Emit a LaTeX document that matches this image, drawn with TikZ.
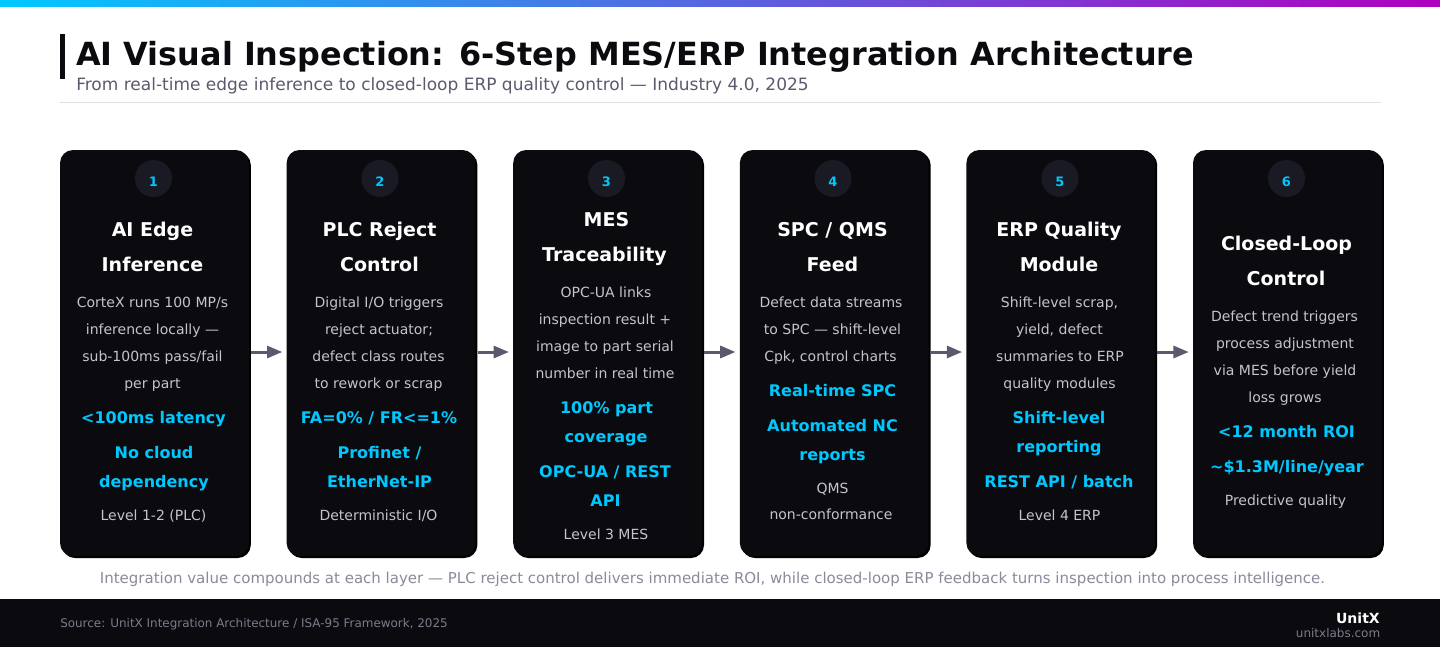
\documentclass[tikz,border=0pt]{standalone}
\usepackage{fontspec}
\setmainfont{DejaVu Sans}
\usetikzlibrary{arrows.meta,shadows}
\definecolor{inkdark}{HTML}{0A0A0F}
\definecolor{numfill}{HTML}{1A1A24}
\definecolor{accent}{HTML}{00C8FF}
\definecolor{bodygrey}{HTML}{C4C4CC}
\definecolor{slate}{HTML}{5A5A6E}
\definecolor{notegrey}{HTML}{8A8A9A}
\definecolor{rulegrey}{HTML}{E0E0E0}
\definecolor{barend}{HTML}{B000C0}
\definecolor{barmid}{HTML}{3B82F6}
\tikzset{
  basic/.style  = {inner sep=0pt, anchor=base},
  card/.style   = {fill=inkdark, rounded corners=9.75pt, minimum width=141.6pt, minimum height=304.5pt, inner sep=0pt,
                   drop shadow={shadow xshift=1.5pt, shadow yshift=-1.5pt, fill=black, opacity=1}},
  badge/.style  = {circle, fill=numfill, minimum size=27.75pt, inner sep=0pt},
  num/.style    = {basic, text=accent, font=\fontsize{9.75pt}{12pt}\selectfont\bfseries},
  head/.style   = {basic, text=white, font=\fontsize{14.25pt}{17pt}\selectfont\bfseries},
  body/.style   = {basic, text=bodygrey, font=\fontsize{10.5pt}{13pt}\selectfont},
  key/.style    = {basic, text=accent, font=\fontsize{12pt}{14pt}\selectfont\bfseries},
  flow/.style   = {-{Triangle[length=11.5pt,width=9pt]}, slate, line width=2.25pt, shorten <=1.5pt, shorten >=3pt}
}
\begin{document}
\begin{tikzpicture}[x=0.75pt, y=-0.75pt]
\useasboundingbox (0,0) rectangle (1440,647);

% page furniture
\shade[left color=accent, middle color=barmid, right color=barend] (0,0) rectangle (1440,6);
\fill[inkdark] (60,34) rectangle (65,79);
\fill[rulegrey] (60,101.5) rectangle (1381,102.5);
\fill[inkdark] (0,599) rectangle (1440,647);

\node[basic, anchor=base west, text=inkdark, font=\fontsize{23.9pt}{29pt}\selectfont\bfseries] (maintitle) at (76,65)
  {AI Visual Inspection: 6-Step MES/ERP Integration Architecture};
\node[basic, anchor=base west, text=slate, font=\fontsize{12.75pt}{15pt}\selectfont] (subtitle) at (76,90)
  {From real-time edge inference to closed-loop ERP quality control — Industry 4.0, 2025};

% cards and their number badges
\foreach \i/\cx/\nx in {1/154.4/153.5, 2/381/380, 3/607.6/606.5, 4/834.2/833, 5/1060.8/1060, 6/1287.4/1286.5} {
  \node[card] (c\i) at (\cx,353) {};
  \node[badge] (n\i) at (\nx,178.5) {};
  \node[num] (l\i) at (\nx,186) {\i};
}

% card 1
\node[head] (c11) at (152.5,236) {AI Edge};
\node[head] (c12) at (152.5,271) {Inference};
\node[body] (c13) at (152.5,307) {CorteX runs 100 MP/s};
\node[body] (c14) at (152.5,334) {inference locally —};
\node[body] (c15) at (152.5,361) {sub-100ms pass/fail};
\node[body] (c16) at (152.5,388) {per part};
\node[key]  (c17) at (153.5,423) {<100ms latency};
\node[key]  (c18) at (154,458) {No cloud};
\node[key]  (c19) at (154,487) {dependency};
\node[body] (c110) at (153.5,520) {Level 1-2 (PLC)};

% card 2
\node[head] (c21) at (379.5,236) {PLC Reject};
\node[head] (c22) at (379.5,271) {Control};
\node[body] (c23) at (379,307) {Digital I/O triggers};
\node[body] (c24) at (379,334) {reject actuator;};
\node[body] (c25) at (378.5,361) {defect class routes};
\node[body] (c26) at (378.5,388) {to rework or scrap};
\node[key]  (c27) at (379,423) {FA=0\% / FR<=1\%};
\node[key]  (c28) at (379.5,458) {Profinet /};
\node[key]  (c29) at (379.5,487) {EtherNet-IP};
\node[body] (c210) at (378.5,520) {Deterministic I/O};

% card 3
\node[head] (c31) at (606.5,226) {MES};
\node[head] (c32) at (604.5,261) {Traceability};
\node[body] (c33) at (606,297) {OPC-UA links};
\node[body] (c34) at (605,324) {inspection result +};
\node[body] (c35) at (605,351) {image to part serial};
\node[body] (c36) at (605,378) {number in real time};
\node[key]  (c37) at (606.5,413) {100\% part};
\node[key]  (c38) at (606,442) {coverage};
\node[key]  (c39) at (605,477) {OPC-UA / REST};
\node[key]  (c310) at (605.5,506) {API};
\node[body] (c311) at (606,539) {Level 3 MES};

% card 4
\node[head] (c41) at (832.5,236) {SPC / QMS};
\node[head] (c42) at (832.5,271) {Feed};
\node[body] (c43) at (831,307) {Defect data streams};
\node[body] (c44) at (832.5,334) {to SPC — shift-level};
\node[body] (c45) at (830.5,361) {Cpk, control charts};
\node[key]  (c46) at (832.5,396) {Real-time SPC};
\node[key]  (c47) at (832.5,431) {Automated NC};
\node[key]  (c48) at (832.5,460) {reports};
\node[body] (c49) at (832.5,493) {QMS};
\node[body] (c410) at (831,519) {non-conformance};

% card 5
\node[head] (c51) at (1059,236) {ERP Quality};
\node[head] (c52) at (1059,271) {Module};
\node[body] (c53) at (1059.5,307) {Shift-level scrap,};
\node[body] (c54) at (1059.5,334) {yield, defect};
\node[body] (c55) at (1060,361) {summaries to ERP};
\node[body] (c56) at (1059.5,388) {quality modules};
\node[key]  (c57) at (1059,423) {Shift-level};
\node[key]  (c58) at (1059,452) {reporting};
\node[key]  (c59) at (1059,487) {REST API / batch};
\node[body] (c510) at (1059.5,520) {Level 4 ERP};

% card 6
\node[head] (c61) at (1286.5,250) {Closed-Loop};
\node[head] (c62) at (1286,285) {Control};
\node[body] (c63) at (1284.5,321) {Defect trend triggers};
\node[body] (c64) at (1285,348) {process adjustment};
\node[body] (c65) at (1285,375) {via MES before yield};
\node[body] (c66) at (1285,402) {loss grows};
\node[key]  (c67) at (1286.5,437) {<12 month ROI};
\node[key]  (c68) at (1287,472) {\textasciitilde\$1.3M/line/year};
\node[body] (c69) at (1285.5,505) {Predictive quality};

% arrows from each card to the next
\foreach \i/\j in {1/2, 2/3, 3/4, 4/5, 5/6}
  \draw[flow] ([yshift=0.75pt]c\i.east) -- ([yshift=0.75pt]c\j.west);

\node[basic, text=notegrey, font=\fontsize{11.25pt}{14pt}\selectfont] (note) at (712.5,583)
  {Integration value compounds at each layer — PLC reject control delivers immediate ROI, while closed-loop ERP feedback turns inspection into process intelligence.};
\node[basic, anchor=base west, text=notegrey!90!black, font=\fontsize{8.96pt}{11pt}\selectfont] (source) at (60,627)
  {Source: UnitX Integration Architecture / ISA-95 Framework, 2025};
\node[basic, anchor=base east, text=white, font=\fontsize{10.5pt}{13pt}\selectfont\bfseries] (brand) at (1380,623) {UnitX};
\node[basic, anchor=base east, text=notegrey!90!black, font=\fontsize{9pt}{11pt}\selectfont] (site) at (1380.5,637) {unitxlabs.com};
\end{tikzpicture}
\end{document}
